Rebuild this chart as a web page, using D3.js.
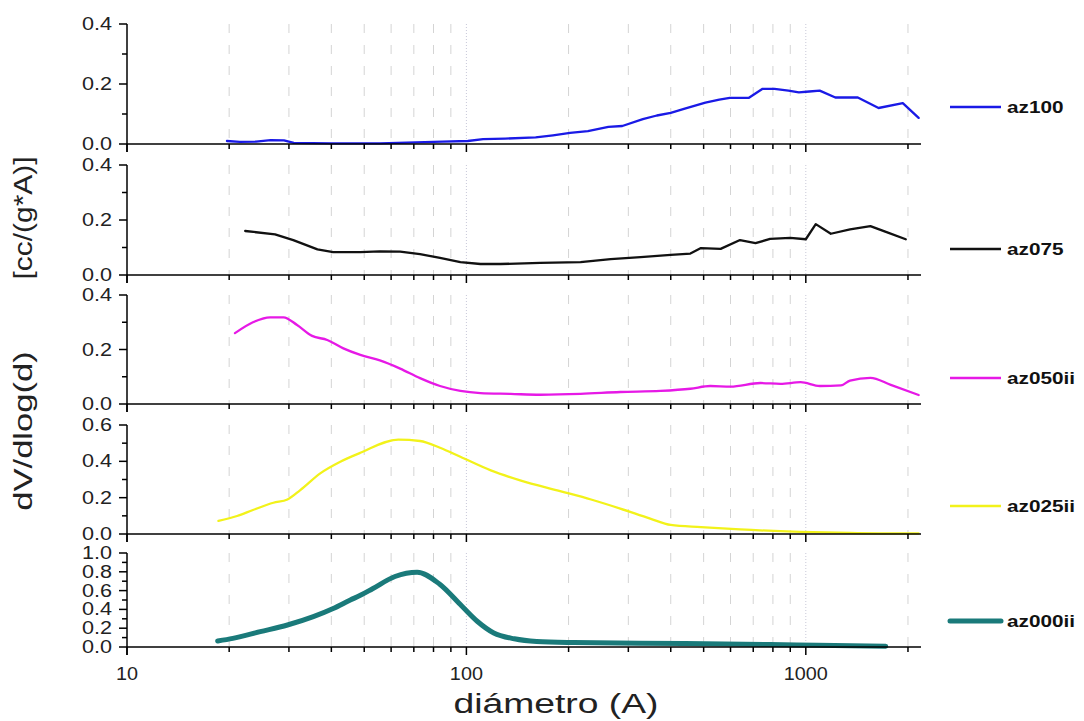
<!DOCTYPE html>
<html>
<head>
<meta charset="utf-8">
<script src="https://cdn.jsdelivr.net/npm/d3@7"></script>
<style>
  body { margin: 0; background: #fff; }
  svg { display: block; font-family: "Liberation Sans", Arial, sans-serif; }
</style>
</head>
<body>
<svg id="chart" width="1084" height="721"></svg>
<script>
// diameter (A) vs dV/dlog(d)
var az100 = [[19.7,0.010],[21.5,0.007],[24,0.008],[26.5,0.013],[29,0.012],[31,0.004],[40,0.002],[55.6,0.002],
  [85,0.008],[101,0.010],[112,0.016],[130,0.018],[160,0.022],[180,0.029],[202,0.037],[228,0.043],[262,0.057],
  [288,0.060],[331,0.083],[364,0.095],[400,0.104],[440,0.118],[506,0.138],[556,0.148],[597,0.154],[680,0.154],
  [746,0.184],[809,0.184],[889,0.178],[954,0.172],[1024,0.175],[1099,0.178],[1222,0.155],[1423,0.155],
  [1638,0.120],[1931,0.136],[2150,0.087]];
var az075 = [[22.3,0.160],[27.3,0.148],[30.9,0.127],[36.4,0.093],[40.5,0.083],[48.7,0.083],[55.6,0.086],
  [63.8,0.085],[73,0.076],[83.6,0.062],[96,0.047],[110,0.040],[126,0.040],[165,0.044],[217,0.047],[266,0.058],
  [326,0.065],[400,0.073],[457,0.078],[491,0.098],[561,0.095],[640,0.127],[711,0.116],[785,0.131],[900,0.135],
  [1000,0.130],[1070,0.185],[1185,0.150],[1350,0.166],[1550,0.178],[1730,0.156],[1970,0.130]];
var az050ii = [[20.8,0.260],[23.5,0.300],[26.4,0.318],[28.9,0.318],[31.7,0.290],[35.1,0.250],[38.9,0.235],
  [43.4,0.204],[48.7,0.180],[55.6,0.160],[63.8,0.130],[73,0.095],[83.6,0.066],[96,0.048],[110,0.040],[135,0.037],
  [165,0.034],[217,0.037],[284,0.044],[373,0.048],[457,0.056],[523,0.066],[600,0.064],[735,0.077],[842,0.074],
  [965,0.080],[1100,0.066],[1270,0.068],[1350,0.086],[1550,0.096],[1780,0.070],[2150,0.033]];
var az025ii = [[18.6,0.072],[21.1,0.099],[23.5,0.132],[27,0.172],[29.7,0.190],[32.4,0.242],[37.1,0.334],
  [42.5,0.398],[48.7,0.447],[63,0.520],[73,0.512],[83.6,0.475],[96,0.425],[118,0.350],[144,0.295],[190,0.235],
  [233,0.190],[284,0.140],[348,0.085],[400,0.050],[491,0.038],[640,0.025],[965,0.012],[1350,0.006],[1900,0.003],
  [2150,0.003]];
var az000ii = [[18.5,0.064],[20.5,0.092],[24.7,0.163],[29.7,0.234],[35.4,0.323],[40.5,0.410],[45.5,0.500],
  [48.7,0.550],[52.9,0.620],[61.6,0.750],[71.6,0.796],[83.3,0.670],[96.9,0.436],[107.6,0.274],[120.4,0.149],
  [138.4,0.087],[161,0.059],[207,0.048],[440,0.037],[940,0.022],[1720,0.008]];

var seriesNames = ["az100", "az075", "az050ii", "az025ii", "az000ii"];
var seriesData = [az100, az075, az050ii, az025ii, az000ii];
var seriesColors = ["#1a1ae6", "#111111", "#e619e6", "#f2f21a", "#1a7a7a"];
var yMax = [0.4, 0.4, 0.4, 0.6, 1.0];
var xTickLabels = [10, 100, 1000];

var svg = d3.select("#chart");
var left = 127, right = 920;
var panels = [{top: 24, bottom: 144}, {top: 165, bottom: 275}, {top: 295, bottom: 404},
              {top: 425, bottom: 534}, {top: 553, bottom: 647}];
var widths = [2.3, 2.3, 2.3, 2.3, 5];
var legendY = [107, 249, 378, 506, 621];

var x = d3.scaleLog().domain([10, 2170]).range([left, right]);

// widen text like the original export
function stretch(sel, k) {
  sel.each(function () {
    var w = this.getComputedTextLength();
    this.setAttribute("textLength", w * k);
    this.setAttribute("lengthAdjust", "spacingAndGlyphs");
  });
}

var minorX = [];
[10, 100, 1000].forEach(function (dec) {
  for (var m = 2; m <= 9; m++) if (dec * m < 2170) minorX.push(dec * m);
});

panels.forEach(function (p, i) {
  var y = d3.scaleLinear().domain([0, yMax[i]]).range([p.bottom, p.top]);
  var g = svg.append("g");

  // vertical grid
  g.selectAll("line.grid").data(minorX).join("line")
    .attr("x1", d => x(d)).attr("x2", d => x(d))
    .attr("y1", p.top).attr("y2", p.bottom)
    .attr("stroke", "#d4d4d4").attr("stroke-width", 1)
    .attr("stroke-dasharray", "9,12");
  g.selectAll("line.grid2").data([100, 1000]).join("line")
    .attr("x1", d => x(d)).attr("x2", d => x(d))
    .attr("y1", p.top).attr("y2", p.bottom)
    .attr("stroke", "#c8c8d8").attr("stroke-width", 1)
    .attr("stroke-dasharray", "1,2");

  // line
  var line = d3.line()
    .x(d => x(d[0])).y(d => y(d[1]))
    .curve(i < 2 ? d3.curveLinear : d3.curveMonotoneX);
  g.append("path").datum(seriesData[i])
    .attr("fill", "none")
    .attr("stroke", seriesColors[i])
    .attr("stroke-width", widths[i])
    .attr("stroke-linejoin", "round")
    .attr("stroke-linecap", "round")
    .attr("d", line);

  // x axis
  var xa = g.append("g").attr("transform", "translate(0," + p.bottom + ")");
  xa.append("line").attr("x1", left).attr("x2", right + 1).attr("stroke", "#000").attr("stroke-width", 1.5);
  xa.selectAll("line.mj").data(xTickLabels).join("line")
    .attr("x1", d => x(d)).attr("x2", d => x(d)).attr("y1", 0).attr("y2", 8)
    .attr("stroke", "#000").attr("stroke-width", 1.5);
  xa.selectAll("line.mn").data(minorX).join("line")
    .attr("x1", d => x(d)).attr("x2", d => x(d)).attr("y1", 0).attr("y2", 5)
    .attr("stroke", "#000").attr("stroke-width", 1.5);

  // y axis
  var ya = g.append("g");
  ya.append("line").attr("x1", left).attr("x2", left).attr("y1", p.top).attr("y2", p.bottom + 8)
    .attr("stroke", "#000").attr("stroke-width", 1.5);
  var majors = d3.range(0, yMax[i] + 0.001, 0.2);
  var minors = d3.range(0.1, yMax[i], 0.2);
  ya.selectAll("line.mj").data(majors).join("line")
    .attr("x1", left - 8).attr("x2", left).attr("y1", d => y(d)).attr("y2", d => y(d))
    .attr("stroke", "#000").attr("stroke-width", 1.5);
  ya.selectAll("line.mn").data(minors).join("line")
    .attr("x1", left - 5).attr("x2", left).attr("y1", d => y(d)).attr("y2", d => y(d))
    .attr("stroke", "#000").attr("stroke-width", 1.5);
  ya.selectAll("text").data(majors).join("text")
    .attr("x", 112).attr("y", d => y(d) + 6)
    .attr("text-anchor", "end")
    .attr("font-size", 18).attr("fill", "#222")
    .text(d => d.toFixed(1))
    .call(stretch, 1.2);

  // legend
  svg.append("line")
    .attr("x1", 950).attr("x2", 1001).attr("y1", legendY[i]).attr("y2", legendY[i])
    .attr("stroke", seriesColors[i]).attr("stroke-width", widths[i] === 5 ? 5 : 2.5)
    .attr("stroke-linecap", widths[i] === 5 ? "round" : "butt");
  svg.append("text")
    .attr("x", 1007).attr("y", legendY[i] + 6)
    .attr("font-size", 17).attr("font-weight", "bold").attr("fill", "#111")
    .text(seriesNames[i])
    .call(stretch, 1.22);
});

// x tick labels
svg.selectAll("text.xl").data(xTickLabels).join("text")
  .attr("class", "xl")
  .attr("x", d => x(d)).attr("y", 680)
  .attr("text-anchor", "middle")
  .attr("font-size", 18).attr("fill", "#222")
  .text(d => d)
  .call(stretch, 1.1);

// axis titles
svg.append("text")
  .attr("x", 556).attr("y", 713)
  .attr("text-anchor", "middle")
  .attr("font-size", 27).attr("fill", "#222")
  .text("diámetro (A)")
  .call(stretch, 1.38);

svg.append("text")
  .attr("transform", "translate(32,431) rotate(-90)")
  .attr("text-anchor", "middle")
  .attr("font-size", 26).attr("fill", "#222")
  .text("dV/dlog(d)")
  .call(stretch, 1.33);

svg.append("text")
  .attr("transform", "translate(32,218) rotate(-90)")
  .attr("text-anchor", "middle")
  .attr("font-size", 26).attr("fill", "#222")
  .text("[cc/(g*A)]")
  .call(stretch, 1.15);
</script>
</body>
</html>
